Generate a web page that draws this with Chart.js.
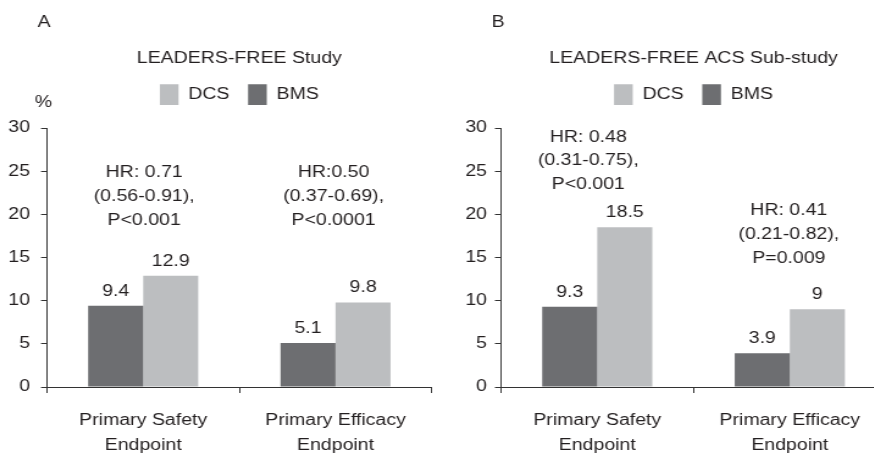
<!DOCTYPE html>
<html>
<head>
<meta charset="utf-8">
<script src="https://cdn.jsdelivr.net/npm/chart.js@4/dist/chart.umd.min.js"></script>
<style>
  html, body { margin: 0; padding: 0; background: #fff; }
  #wrap { position: relative; width: 874px; height: 453px; overflow: hidden; background: #fff; }
  .panel { position: absolute; top: 0; width: 437px; height: 453px; overflow: hidden; }
  canvas { display: block; }
</style>
</head>
<body>
<div id="wrap">
  <div class="panel" style="left:0"><canvas id="cA" width="358" height="453"></canvas></div>
  <div class="panel" style="left:437px"><canvas id="cB" width="373" height="453"></canvas></div>
</div>
<script>
// ---- data ----
const categories = [["Primary Safety", "Endpoint"], ["Primary Efficacy", "Endpoint"]];
const seriesNames = ["BMS", "DCS"];
const bmsA = [9.4, 5.1];
const dcsA = [12.9, 9.8];
const bmsB = [9.3, 3.9];
const dcsB = [18.5, 9];
const yTicks = [0, 5, 10, 15, 20, 25, 30];
const panelLetters = ["A", "B"];
const panelTitles = ["LEADERS-FREE Study", "LEADERS-FREE ACS Sub-study"];
const hrA = [["HR: 0.71", "(0.56-0.91),", "P<0.001"], ["HR:0.50", "(0.37-0.69),", "P<0.0001"]];
const hrB = [["HR: 0.48", "(0.31-0.75),", "P<0.001"], ["HR: 0.41", "(0.21-0.82),", "P=0.009"]];
const unitLabel = "%";

// ---- styles ----
const S = 437 / 358;           // horizontal stretch of the original figure
const R = v => v / S;          // real px -> canvas px (horizontal)
const FONT = '"Liberation Sans", Arial, Helvetica, sans-serif';
const TEXT = '#231f20';
const AXIS = '#333333';
const DARK = '#6d6e71';
const LIGHT = '#bcbec0';

document.getElementById('cA').style.width = (358 * S) + 'px';
document.getElementById('cA').style.height = '453px';
document.getElementById('cB').style.width = (373 * S) + 'px';
document.getElementById('cB').style.height = '453px';

const annotPlugin = {
  id: 'annot',
  afterDatasetsDraw(chart, args, opts) {
    const ctx = chart.ctx;
    const xs = chart.scales.x, ys = chart.scales.y;
    ctx.save();
    ctx.font = '16px ' + FONT;
    ctx.fillStyle = TEXT;
    ctx.textAlign = 'center';
    ctx.textBaseline = 'alphabetic';
    chart.data.datasets.forEach((ds, di) => {
      chart.getDatasetMeta(di).data.forEach((bar, i) => {
        ctx.fillText(String(ds.data[i]), bar.x, bar.y - 10);
      });
    });
    ctx.textBaseline = 'middle';
    opts.blocks.forEach(b => {
      const cx = xs.getPixelForValue(b.index) + R(b.dx);
      const y0 = ys.getPixelForValue(b.y);
      b.lines.forEach((t, k) => ctx.fillText(t, cx, y0 + k * b.lh));
    });
    ctx.textAlign = 'left';
    ctx.fillText(opts.letter, chart.chartArea.left - R(9.5), 22.8);
    if (opts.unit) {
      ctx.textAlign = 'center';
      ctx.fillText(opts.unit, chart.chartArea.left - R(3.5), 102.5);
    }
    ctx.restore();
  }
};

function makeChart(id, bms, dcs, title, letter, unit, blocks, yAxisW, yPad, rightPad) {
  return new Chart(document.getElementById(id), {
    type: 'bar',
    data: {
      labels: categories,
      datasets: [
        { label: seriesNames[0], data: bms, backgroundColor: DARK, borderWidth: 0 },
        { label: seriesNames[1], data: dcs, backgroundColor: LIGHT, borderWidth: 0 }
      ]
    },
    options: {
      responsive: false,
      devicePixelRatio: 1,
      animation: false,
      events: [],
      layout: { padding: { left: 0, right: rightPad, top: 0, bottom: 0 } },
      datasets: { bar: { barPercentage: 1, categoryPercentage: 0.572 } },
      scales: {
        x: {
          offset: true,
          grid: { offset: true, drawOnChartArea: false, drawTicks: true, tickLength: 6, color: AXIS, lineWidth: 1 },
          border: { display: true, color: AXIS, width: 1 },
          ticks: { color: TEXT, padding: 15.5, maxRotation: 0, autoSkip: false,
                   font: { family: FONT, size: 16, lineHeight: 1.53 } },
          afterFit: s => { s.height = 66; }
        },
        y: {
          min: 0, max: 30,
          afterBuildTicks: s => { s.ticks = yTicks.map(v => ({ value: v })); },
          grid: { drawOnChartArea: false, drawTicks: true, tickLength: R(6), color: AXIS, lineWidth: 1 },
          border: { display: true, color: AXIS, width: 1 },
          ticks: { color: TEXT, padding: yPad, font: { family: FONT, size: 16 } },
          afterFit: s => { s.width = yAxisW; }
        }
      },
      plugins: {
        title: {
          display: true, text: title, fullSize: false, color: TEXT,
          font: { family: FONT, size: 16, weight: 'normal', lineHeight: 1.2 },
          padding: { top: 48.7, bottom: 1.2 }
        },
        legend: {
          display: true, position: 'top', reverse: true, fullSize: false,
          labels: { color: TEXT, boxWidth: R(18.7), boxHeight: 20.7, padding: 15.2,
                    font: { family: FONT, size: 16 } }
        },
        subtitle: {
          display: true, text: '', weight: 500, fullSize: false,
          font: { size: 1, lineHeight: 1 }, padding: { top: 0, bottom: 12 }
        },
        tooltip: { enabled: false },
        annot: { letter: letter, unit: unit, blocks: blocks }
      }
    },
    plugins: [annotPlugin]
  });
}

makeChart('cA', bmsA, dcsA, panelTitles[0], panelLetters[0], unitLabel, [
  { index: 0, y: 24.81, dx: 1, lh: 24, lines: hrA[0] },
  { index: 1, y: 24.81, dx: -2, lh: 24, lines: hrA[1] }
], R(47), 9.0, 358 - R(431.7));

makeChart('cB', bmsB, dcsB, panelTitles[1], panelLetters[1], null, [
  { index: 0, y: 28.87, dx: -9, lh: 23.3, lines: hrB[0] },
  { index: 1, y: 20.47, dx: -1, lh: 24, lines: hrB[1] }
], R(64), 6.55, 373 - R(449.4));
</script>
</body>
</html>
